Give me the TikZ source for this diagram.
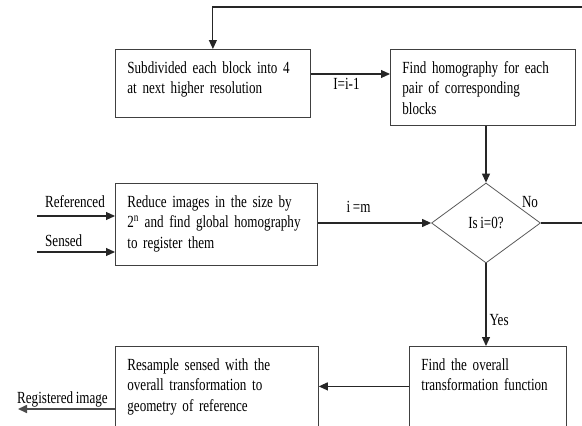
\documentclass[tikz,border=0pt]{standalone}
\usepackage{fontspec}
\setmainfont{Liberation Serif}[FakeStretch=0.77, WordSpace=0.8]
\usetikzlibrary{shapes.geometric, arrows.meta, positioning}
\tikzset{
  box/.style={rectangle, draw=black!75, line width=0.8pt, anchor=north west, align=left, inner xsep=12pt, inner ysep=0pt, text height=24pt},
  decision/.style={diamond, draw=black!65, line width=0.8pt, minimum width=109pt, minimum height=80pt, inner sep=0pt},
  arrow/.style={-{Triangle[length=9pt,width=8pt]}, line width=1.1pt, draw=black!85},
  lbl/.style={inner sep=1pt},
}

\begin{document}
\begin{tikzpicture}[x=1pt, y=-1pt, font=\fontsize{17}{20.5}\selectfont]
    \useasboundingbox (0,0) rectangle (582,426);
    % boxes
    \node[box, text width=171pt, text depth=44pt] (subdiv) at (115,49) {Subdivided each block into 4\\at next higher resolution};
    \node[box, text width=161pt, text depth=52pt] (homog) at (390,49) {Find homography for each\\pair of corresponding\\blocks};
    \node[box, text width=178pt, text depth=58pt] (reduce) at (115,183) {Reduce images in the size by\\2\textsuperscript{n} and find global homography\\to register them};
    \node[decision] (test) at (486,223) {Is i=0?};
    \node[box, text width=133pt, text depth=56pt] (overall) at (409,346) {Find the overall\\transformation function};
    \node[box, text width=179pt, text depth=56pt] (resample) at (115,346) {Resample sensed with the\\overall transformation to\\geometry of reference};
    % inputs and output
    \coordinate (refin) at (37,216);
    \coordinate (senin) at (37,252);
    \coordinate (regout) at (18,409);
    \node[lbl, anchor=west] (reflbl) at (44,202) {Referenced};
    \node[lbl, anchor=west] (senlbl) at (44,241) {Sensed};
    \node[lbl, anchor=west] (reglbl) at (16,399) {Registered image};
    \draw[arrow] (refin) -- (refin -| reduce.west);
    \draw[arrow] (senin) -- (senin -| reduce.west);
    \draw[arrow, line width=1.6pt, draw=black!70] (regout -| resample.west) -- (regout);
    % loop
    \coordinate (decstart) at ([yshift=-25pt]subdiv.north east);
    \draw[arrow] (decstart) -- (decstart -| homog.west) node[lbl, pos=0.45, below=3pt] (declbl) {I=i-1};
    \draw[arrow] (homog.south -| test.north) -- (test.north);
    \draw[arrow] (reduce.east |- test.west) -- (test.west) node[lbl, pos=0.36, above=9pt] (initlbl) {i =m};
    \draw[arrow] (test.east) -- ++(55,0) |- ([yshift=42pt]subdiv.north) -- (subdiv.north);
    \node[lbl] (nolbl) at (530,202) {No};
    \draw[arrow] (test.south) -- (test.south |- overall.north) node[lbl, pos=0.68, right=2pt] (yeslbl) {Yes};
    \draw[arrow] (overall.west) -- (overall.west -| resample.east);
  \end{tikzpicture}
\end{document}
